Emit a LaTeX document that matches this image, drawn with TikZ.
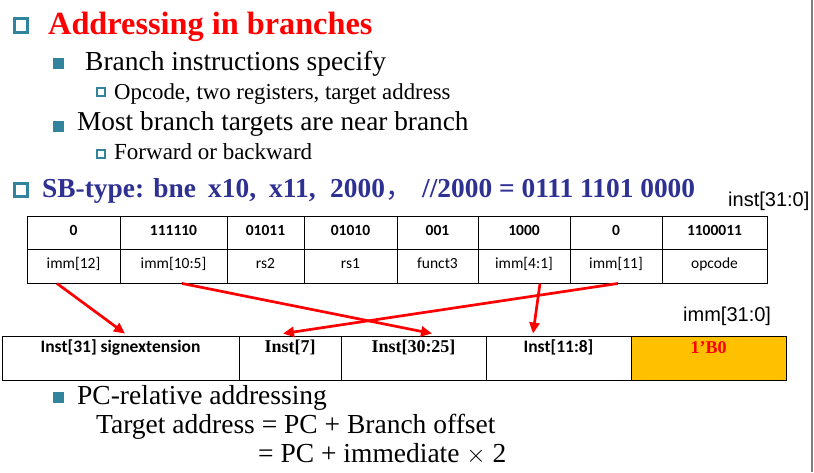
\documentclass[tikz,border=0pt]{standalone}
\usepackage{fontspec}
\setmainfont{Liberation Serif}
\newfontfamily\calfont{Carlito}
\newfontfamily\arialfont{Liberation Sans}
\newfontfamily\cjkfont{Noto Sans CJK SC}
\usetikzlibrary{arrows.meta}
\definecolor{bulletteal}{RGB}{49,132,155}
\definecolor{navytext}{RGB}{46,49,146}
\definecolor{immorange}{RGB}{255,192,0}
\newcommand\fsz[1]{\fontsize{#1}{#1}\selectfont}
\begin{document}
\begin{tikzpicture}[x=1pt,y=-1pt,
  hollowA/.style={draw=bulletteal, line width=3pt, fill=white, minimum size=13.5pt, inner sep=0pt},
  fillB/.style={fill=bulletteal, minimum size=11pt, inner sep=0pt},
  hollowC/.style={draw=bulletteal, line width=1.6pt, fill=white, minimum size=7.5pt, inner sep=0pt},
  txt/.style={anchor=base west, inner sep=0pt},
  cell/.style={draw, line width=0.9pt, inner sep=0pt, text height=0.72em, text depth=0.2em},
  topcell/.style={cell, minimum height=33pt, font=\calfont\bfseries\fsz{15.5}},
  botcell/.style={cell, minimum height=34pt, font=\calfont\fsz{15.5}},
  immcell/.style={cell, minimum height=44pt},
  arr/.style={draw=red, line width=2.7pt, -{Triangle[length=11pt,width=10pt]}}]
\useasboundingbox (0,0) rectangle (814,472);
\fill[white] (0,0) rectangle (814,472);
\draw[gray, line width=1.5pt] (812,0) -- (812,472);

% heading and bullet list
\node[hollowA] (bA) at (21,25.5) {};
\node[txt, font=\bfseries\fsz{32.3}, text=red] (title) at (48,34) {Addressing in branches};
\node[fillB] (bB1) at (58.5,63.5) {};
\node[txt, font=\fsz{27.5}] (l1) at (85,70) {Branch instructions specify};
\node[hollowC] (bC1) at (101,92) {};
\node[txt, font=\fsz{22.8}] (l2) at (114,99) {Opcode, two registers, target address};
\node[fillB] (bB2) at (58.5,126) {};
\node[txt, font=\fsz{27.3}] (l3) at (77,130) {Most branch targets are near branch};
\node[hollowC] (bC2) at (101,154) {};
\node[txt, font=\fsz{23}] (l4) at (114,159) {Forward or backward};

% instruction line
\node[hollowA] (bA2) at (21,190) {};
\begin{scope}[every node/.style={txt, font=\bfseries\fsz{27.4}, text=navytext}]
  \node (sb)  at (42,197)  {SB-type: bne};
  \node (x10) at (208,197) {x10,};
  \node (x11) at (269,197) {x11,};
  \node (imm) at (330,197) {2000{\cjkfont\mdseries ，}};
  \node (cmt) at (422,197) {//2000 = 0111 1101 0000};
\end{scope}
\node[txt, font=\arialfont\fsz{20}] (instlbl) at (728,206) {inst[31:0]};

% instruction word fields
\node[topcell, minimum width=93pt]  (v1) at (73.5,232.5) {0};
\node[topcell, minimum width=107pt] (v2) at (173.5,232.5) {111110};
\node[topcell, minimum width=77pt]  (v3) at (265.5,232.5) {01011};
\node[topcell, minimum width=93pt]  (v4) at (350.5,232.5) {01010};
\node[topcell, minimum width=81pt]  (v5) at (437.5,232.5) {001};
\node[topcell, minimum width=92pt]  (v6) at (524,232.5) {1000};
\node[topcell, minimum width=92pt]  (v7) at (616,232.5) {0};
\node[topcell, minimum width=105pt] (v8) at (714.5,232.5) {1100011};
\node[botcell, minimum width=93pt]  (f1) at (73.5,266) {imm[12]};
\node[botcell, minimum width=107pt] (f2) at (173.5,266) {imm[10:5]};
\node[botcell, minimum width=77pt]  (f3) at (265.5,266) {rs2};
\node[botcell, minimum width=93pt]  (f4) at (350.5,266) {rs1};
\node[botcell, minimum width=81pt]  (f5) at (437.5,266) {funct3};
\node[botcell, minimum width=92pt]  (f6) at (524,266) {imm[4:1]};
\node[botcell, minimum width=92pt]  (f7) at (616,266) {imm[11]};
\node[botcell, minimum width=105pt] (f8) at (714.5,266) {opcode};

% immediate value
\node[txt, font=\arialfont\fsz{20}] (immlbl) at (683,321) {imm[31:0]};
\node[immcell, minimum width=237pt] (g1) at (120.5,358) {};
\node[immcell, minimum width=102pt] (g2) at (290,358) {};
\node[immcell, minimum width=145pt] (g3) at (413.5,358) {};
\node[immcell, minimum width=145pt] (g4) at (558.5,358) {};
\node[immcell, minimum width=155pt, fill=immorange] (g5) at (708.5,358) {};
\node[font=\calfont\bfseries\fsz{17.5}] (g1t) at ([yshift=-12pt]g1.north) {Inst[31] signextension};
\node[font=\bfseries\fsz{18}] (g2t) at ([yshift=-12pt]g2.north) {Inst[7]};
\node[font=\bfseries\fsz{18}] (g3t) at ([yshift=-12pt]g3.north) {Inst[30:25]};
\node[font=\calfont\bfseries\fsz{17.5}] (g4t) at ([yshift=-12pt]g4.north) {Inst[11:8]};
\node[font=\bfseries\fsz{18}, text=red] (g5t) at ([yshift=-12pt]g5.north) {1’B0};

% field-to-bit mapping
\draw[arr] ([xshift=-16.5pt]f1.south) -- ([xshift=4.5pt,yshift=2pt]g1.north);
\draw[arr] ([xshift=8.5pt]f2.south) -- ([xshift=18.5pt,yshift=2pt]g3.north);
\draw[arr] ([xshift=2pt]f7.south) -- ([xshift=-7pt,yshift=2pt]g2.north);
\draw[arr] ([xshift=16pt]f6.south) -- ([xshift=-25.5pt,yshift=2pt]g4.north);

% address computation
\node[fillB] (bB3) at (58.5,397.5) {};
\node[txt, font=\fsz{27.5}] (pc1) at (77,404) {PC-relative addressing};
\node[txt, font=\fsz{27.5}] (pc2) at (96,433) {Target address = PC + Branch offset};
\node[txt, font=\fsz{27.5}] (pc3) at (258,462) {= PC + immediate $\times$ 2};
\end{tikzpicture}
\end{document}
